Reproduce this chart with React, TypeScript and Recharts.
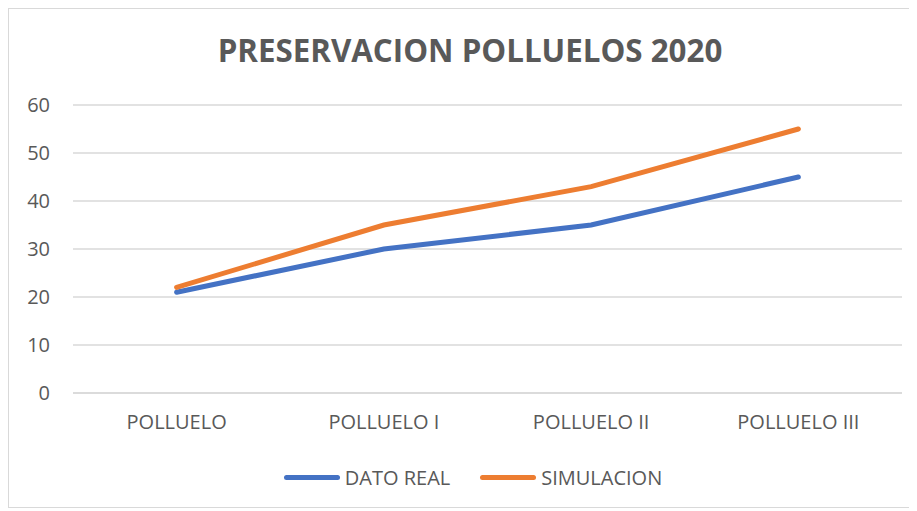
import { LineChart, Line, XAxis, YAxis, CartesianGrid, Legend } from "recharts";

const categories = ["POLLUELO", "POLLUELO I", "POLLUELO II", "POLLUELO III"];
const datoReal = [21, 30, 35, 45];
const simulacion = [22, 35, 43, 55];
const yTicks = [0, 10, 20, 30, 40, 50, 60];

const data = categories.map((name, i) => ({
  name,
  real: datoReal[i],
  sim: simulacion[i],
}));

const FONT = "'Open Sans', sans-serif";
const TEXT = "#595959";

const series = [
  { key: "real", label: "DATO REAL", color: "#4472C4" },
  { key: "sim", label: "SIMULACION", color: "#ED7D31" },
];

function LegendContent() {
  return (
    <div
      style={{
        display: "flex",
        justifyContent: "center",
        alignItems: "center",
        height: 68,
        paddingLeft: 36,
        boxSizing: "border-box",
        fontFamily: FONT,
        fontSize: 20,
        color: TEXT,
      }}
    >
      {series.map((s, i) => (
        <div
          key={s.key}
          style={{ display: "flex", alignItems: "center", marginLeft: i ? 30 : 0 }}
        >
          <div
            style={{
              width: 56,
              height: 5,
              borderRadius: 3,
              background: s.color,
              marginRight: 5,
            }}
          />
          <span>{s.label}</span>
        </div>
      ))}
    </div>
  );
}

export default function App() {
  return (
    <div
      style={{
        position: "relative",
        width: 909,
        height: 503,
        overflow: "hidden",
      }}
    >
      <div
        style={{
          position: "absolute",
          left: 0,
          top: 0,
          width: 1000,
          height: 500,
          border: "1px solid #D9D9D9",
          boxSizing: "border-box",
        }}
      />
      <div
        style={{
          position: "absolute",
          left: 0,
          width: 909,
          top: 26,
          textAlign: "center",
          fontFamily: FONT,
          fontWeight: 700,
          fontSize: 31.3,
          color: TEXT,
          lineHeight: "32px",
          paddingLeft: 15,
          boxSizing: "border-box",
        }}
      >
        PRESERVACION POLLUELOS 2020
      </div>
      <div style={{ position: "absolute", left: 0, top: 0 }}>
        <LineChart
          width={909}
          height={503}
          data={data}
          margin={{ top: 97, right: 15, left: 0, bottom: 0 }}
        >
          <CartesianGrid vertical={false} stroke="#D9D9D9" strokeWidth={1.5} />
          <XAxis
            dataKey="name"
            scale="band"
            height={50}
            axisLine={{ stroke: "#D9D9D9", strokeWidth: 1.5 }}
            tickLine={false}
            tickSize={0}
            tickMargin={22}
            tick={{ fill: TEXT, fontSize: 20, fontFamily: FONT }}
          />
          <YAxis
            width={65}
            domain={[0, 60]}
            ticks={yTicks}
            axisLine={false}
            tickLine={false}
            tickSize={0}
            tickMargin={23}
            tick={{ fill: TEXT, fontSize: 20, fontFamily: FONT }}
          />
          <Legend verticalAlign="bottom" height={68} content={<LegendContent />} />
          {series.map((s) => (
            <Line
              key={s.key}
              dataKey={s.key}
              name={s.label}
              stroke={s.color}
              strokeWidth={5}
              strokeLinecap="round"
              dot={false}
              activeDot={false}
              type="linear"
              isAnimationActive={false}
            />
          ))}
        </LineChart>
      </div>
    </div>
  );
}
